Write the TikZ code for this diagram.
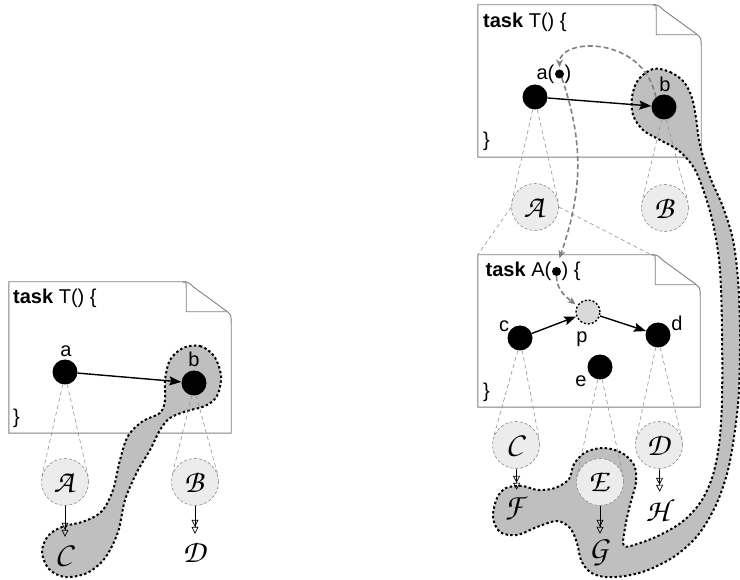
\documentclass[tikz,border=0pt]{standalone}
\usepackage{fontspec}
\setmainfont{Liberation Sans}
\usepackage{tikz}
\usetikzlibrary{positioning,arrows.meta,calc}

\DeclareMathAlphabet{\mathpzc}{OT1}{pzc}{m}{it}

% page with a folded corner, drawn round an (empty) sheet node
\newcommand{\pageframe}[1]{%
  \draw[pageline] (#1.south west) -- (#1.north west)
    -- ([shift={(-49,0)}]#1.north east)
    .. controls ([shift={(-43,0)}]#1.north east) .. ([shift={(-38,5)}]#1.north east)
    -- ([shift={(-5,29)}]#1.north east)
    .. controls ([shift={(0,33)}]#1.north east) .. ([shift={(0,42)}]#1.north east)
    -- (#1.south east) -- cycle;
  \draw[pageline, fill=none] ([shift={(-48,0)}]#1.north east)
    .. controls ([shift={(-45,0)}]#1.north east) .. ([shift={(-45,6)}]#1.north east)
    -- ([shift={(-45,30)}]#1.north east) -- ([shift={(-4,30)}]#1.north east);
}
% dashed cone from a task node down to its region
\newcommand{\conelines}[2]{%
  \draw[cone] (#1.-100) -- (tangent cs:node=#2,point={(#1.-100)},solution=1);
  \draw[cone] (#1.-80) -- (tangent cs:node=#2,point={(#1.-80)},solution=2);
}

\begin{document}
\begin{tikzpicture}[
    x=1pt, y=-1pt,
    sheet/.style={minimum width=222pt, minimum height=151pt, inner sep=0pt},
    pageline/.style={draw=gray, line width=0.9pt, fill=white},
    hdr/.style={inner sep=0pt, font=\fontsize{20}{22}\selectfont},
    lbl/.style={inner sep=0pt, font=\fontsize{20}{22}\selectfont},
    job/.style={circle, fill=black, minimum size=25pt, inner sep=0pt},
    hole/.style={circle, fill=black, minimum size=9pt, inner sep=0pt},
    ghost/.style={circle, fill=gray!30, draw=black, line width=1.4pt, dash pattern=on 2pt off 2pt, minimum size=24pt, inner sep=0pt},
    region/.style={circle, fill=gray!15, draw=gray!90, line width=0.6pt, dash pattern=on 3pt off 2pt, minimum size=47pt, inner sep=0pt, font=\fontsize{32}{34}\selectfont},
    result/.style={minimum height=36pt, inner sep=0pt, font=\fontsize{32}{34}\selectfont},
    blob/.style={fill=gray!50, draw=black, line width=2pt, dash pattern=on 2.4pt off 2.4pt},
    cone/.style={draw=gray!85, line width=0.6pt, dash pattern=on 4pt off 3pt},
    flow/.style={-{Stealth[length=12pt,width=9pt,inset=2pt]}, line width=1.4pt},
    ref/.style={-{Stealth[length=8pt,width=7pt]}, draw=gray, line width=1.6pt, dash pattern=on 5pt off 3pt, shorten >=2pt},
    yield/.style={-{Triangle[open,length=7pt,width=7pt] Triangle[open,length=7pt,width=7pt]}, line width=0.7pt}
  ]
  \useasboundingbox (0,0) rectangle (740,580);

  % Pages
  \node[sheet] (pageL) at (120,357.5) {};
  \node[sheet, minimum width=223pt, minimum height=152pt] (pageT) at (589.5,81) {};
  \node[sheet, minimum height=152pt] (pageA) at (589,331) {};
  \pageframe{pageL}
  \pageframe{pageT}
  \pageframe{pageA}
  \coordinate (foldA) at ([shift={(-49,0)}]pageA.north east);

  % Footprints
  \draw[blob] plot[smooth cycle, tension=0.55] coordinates {
    (183,348) (200,346) (214,356) (221,376) (217,396) (205,406) (187,411)
    (170,418) (160,430) (150,450) (137,472) (125,500) (118,532) (105,558)
    (87,573) (65,577) (49,569) (42,552) (48,536) (62,527) (85,521) (102,511)
    (113,490) (120,460) (128,436) (143,421) (160,413) (165,400) (165,380) (170,360)};
  \draw[blob] plot[smooth cycle, tension=0.55] coordinates {
    (653,69) (670,72) (684,82) (692,98) (696,118) (699,140) (704,160) (712,182)
    (723,207) (733,240) (738,280) (740,330) (739,390) (735,430) (728,470)
    (716,505) (698,535) (675,556) (648,570) (625,576) (605,577) (590,572)
    (581,560) (577,543) (570,528) (557,521) (537,527) (517,535) (500,532)
    (493,517) (497,498) (506,488) (522,486) (538,490) (555,488) (569,479)
    (574,464) (586,452) (604,448) (622,453) (634,465) (636,482) (630,505)
    (625,528) (624,546) (640,543) (660,535) (682,522) (700,503) (712,478)
    (719,445) (722,400) (722,330) (720,270) (714,228) (705,195) (694,168)
    (678,150) (660,140) (643,130) (633,115) (632,97) (638,80)};

  % Left: task T
  \node[hdr, anchor=west] (hdrL) at (13,298) {\textbf{task} T() \{};
  \node[hdr, anchor=west] (endL) at (13,418) {\}};
  \node[job] (aL) at (65,372) {};
  \node[job] (bL) at (194,383) {};
  \node[lbl] (laL) at (66,351) {a};
  \node[lbl] (lbL) at (194,359.5) {b};
  \node[region] (AL) at (65,482) {$\mathpzc{A}$};
  \node[region] (BL) at (195,482) {$\mathpzc{B}$};
  \node[result] (CL) at (65,555) {$\mathpzc{C}$};
  \node[result] (DL) at (195,552) {$\mathpzc{D}$};
  \conelines{aL}{AL}
  \conelines{bL}{BL}
  \draw[flow] (aL) -- (bL);
  \draw[yield] (AL) -- (CL);
  \draw[yield] (BL) -- (DL);

  % Right: task T
  \node[hdr, anchor=west] (hdrT) at (483,22.5) {\textbf{task} T() \{};
  \node[hdr, anchor=west] (endT) at (483,141.5) {\}};
  \node[job] (aR) at (535,97) {};
  \node[job] (bR) at (664,107) {};
  \node[hole] (dotT) at (559.5,74) {};
  \node[lbl, anchor=east] (laR) at (554.5,74) {a(};
  \node[lbl, anchor=west] (raR) at (564.5,74) {)};
  \node[lbl] (lbR) at (665,84.5) {b};
  \node[region] (AR) at (535,207) {$\mathpzc{A}$};
  \node[region] (BR) at (665,208) {$\mathpzc{B}$};
  \conelines{aR}{AR}
  \conelines{bR}{BR}
  \draw[cone] (AR.west) -- (pageA.north west);
  \draw[cone] (AR.east) -- (foldA);
  \draw[flow] (aR) -- (bR);

  % Right: task A
  \node[hdr, anchor=east] (hdrA) at (551.5,271.5) {\textbf{task} A(};
  \node[hole] (dotA) at (556.5,271.5) {};
  \node[hdr, anchor=west] (hdrA2) at (561.5,271.5) {) \{};
  \node[hdr, anchor=west] (endA) at (483,392) {\}};
  \node[job] (c) at (520,338) {};
  \node[ghost] (p) at (588,312) {};
  \node[job] (d) at (658,335) {};
  \node[job] (e) at (600,367) {};
  \node[lbl] (lc) at (504,326) {c};
  \node[lbl] (lp) at (582,339.5) {p};
  \node[lbl] (ld) at (677,323.5) {d};
  \node[lbl] (le) at (581,381.5) {e};
  \node[region] (CR) at (516,445) {$\mathpzc{C}$};
  \node[region] (ER) at (600,482) {$\mathpzc{E}$};
  \node[region] (DR) at (659,445) {$\mathpzc{D}$};
  \node[result] (FR) at (517,508) {$\mathpzc{F}$};
  \node[result] (GR) at (600,552) {$\mathpzc{G}$};
  \node[result] (HR) at (660,510) {$\mathpzc{H}$};
  \conelines{c}{CR}
  \conelines{e}{ER}
  \conelines{d}{DR}
  \draw[flow] (c) -- (p);
  \draw[flow] (p) -- (d);
  \draw[yield] (CR) -- (FR);
  \draw[yield] (ER) -- (GR);
  \draw[yield] (DR) -- (HR);

  % References
  \draw[ref] (bR.130) .. controls +(-12,-62) and +(0,-32) .. (dotT.north);
  \draw[ref, shorten >=9pt] (dotT.-60) .. controls +(24,70) and +(24,-70) .. (dotA.north);
  \draw[ref] (dotA.south) .. controls +(0,14) and +(-10,-8) .. (p.150);
\end{tikzpicture}
\end{document}
